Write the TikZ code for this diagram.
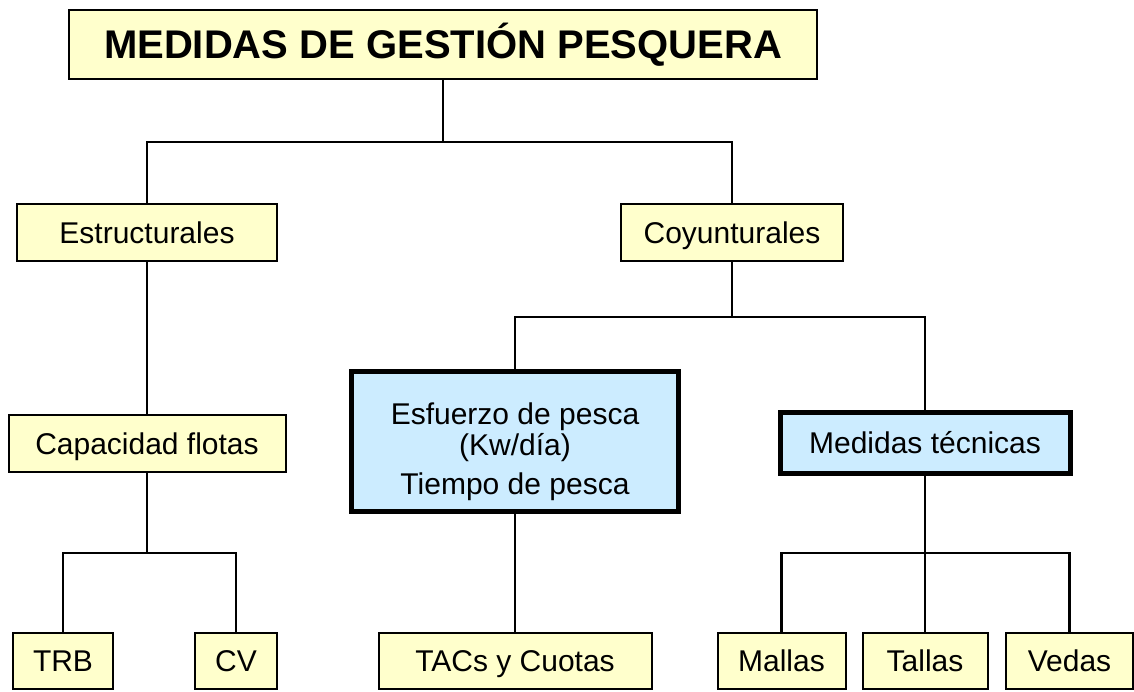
\documentclass[tikz,border=0pt]{standalone}
\usepackage{fontspec}
\setmainfont{Liberation Sans}
\usetikzlibrary{positioning,calc}

\definecolor{boxyellow}{RGB}{255,255,204}
\definecolor{boxblue}{RGB}{204,236,255}

\begin{document}
\begin{tikzpicture}[x=1pt,y=-1pt,
  box/.style={draw,fill=boxyellow,line width=2pt,inner sep=0pt,text height=21pt,text depth=0pt,font=\fontsize{30}{31}\selectfont},
  keybox/.style={box,fill=boxblue,line width=5pt},
  link/.style={line width=2.3pt}]

\useasboundingbox (0,0) rectangle (1134,691);

%%%%%%%%%%%%%%%%%%%%%% LEVELS

\node[box,minimum width=748pt,minimum height=69pt,text height=28.5pt,font=\fontsize{40}{44}\selectfont\bfseries] (titulo) at (443,44.5) {MEDIDAS DE GESTIÓN PESQUERA};

\node[box,minimum width=260pt,minimum height=57pt] (estr) at (147,232.5) {Estructurales};
\node[box,minimum width=222pt,minimum height=57pt] (coy) at (732,232.5) {Coyunturales};

\node[box,minimum width=277pt,minimum height=57pt] (cap) at (147,443.5) {Capacidad flotas};
\node[keybox,minimum width=327pt,minimum height=140pt] (esf) at (515,441.5) {};
\node[align=center,inner sep=0pt,font=\fontsize{30}{31}\selectfont] (esftxt) at (515,451.5) {Esfuerzo de pesca\\(Kw/día)\\[8pt]Tiempo de pesca};
\node[keybox,minimum width=290pt,minimum height=61pt] (med) at (925,443) {Medidas técnicas};

\node[box,minimum width=100pt,minimum height=56pt] (trb) at (63,661) {TRB};
\node[box,minimum width=82pt,minimum height=56pt] (cv) at (236,661) {CV};
\node[box,minimum width=273pt,minimum height=56pt] (tacs) at (515,661) {TACs y Cuotas};
\node[box,minimum width=128pt,minimum height=56pt] (mallas) at (781.5,661) {Mallas};
\node[box,minimum width=125pt,minimum height=56pt] (tallas) at (925,661) {Tallas};
\node[box,minimum width=127pt,minimum height=56pt] (vedas) at (1069.5,661) {Vedas};

%%%%%%%%%%%%%%%%%%%%%% LINKS

\coordinate (b1) at (443,142);
\coordinate (b2) at (732,317);
\coordinate (b3) at (147,553);
\coordinate (b4) at (925,553);

\draw[link] (titulo) -- (b1);
\draw[link] (estr.north) |- (b1) -| (coy.north);

\draw[link] (coy) -- (b2);
\draw[link] (esf.north) |- (b2) -| (med.north);

\draw[link] (estr) -- (cap);
\draw[link] (cap) -- (b3);
\draw[link] (trb.north) |- (b3) -| (cv.north);

\draw[link] (esf) -- (tacs);

\draw[link] (med) -- (tallas);
\draw[link] (mallas.north) |- (b4) -| (vedas.north);

\end{tikzpicture}
\end{document}
